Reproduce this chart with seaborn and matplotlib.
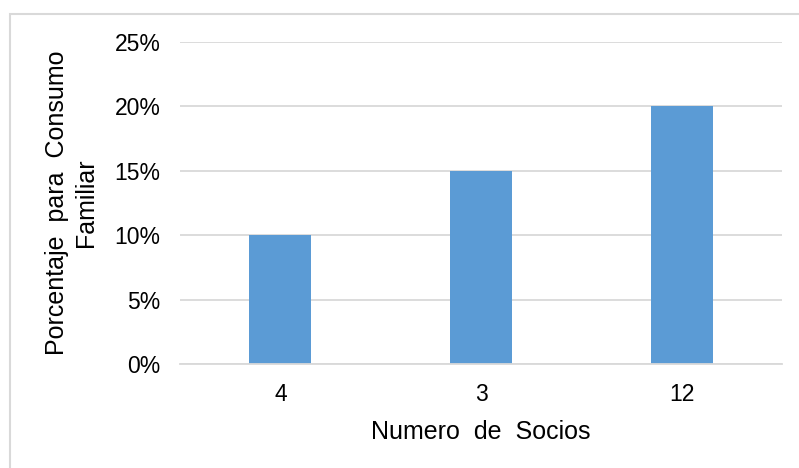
import matplotlib
matplotlib.use('Agg')
import matplotlib.pyplot as plt
import seaborn as sns
import pandas as pd
from matplotlib.ticker import PercentFormatter
from matplotlib.patches import Rectangle

# ====== DATA
socios = ['4', '3', '12']
porcentaje = [0.10, 0.15, 0.20]
y_ticks = [0.0, 0.05, 0.10, 0.15, 0.20, 0.25]

df = pd.DataFrame({'socios': socios, 'porcentaje': porcentaje})

sns.set_theme(style='white')
plt.rcParams['font.family'] = ['Liberation Sans', 'DejaVu Sans']

fig = plt.figure(figsize=(7.99, 4.68), dpi=100)
ax = fig.add_axes([180 / 799, 1 - 364 / 468, (782 - 180) / 799, (364 - 42) / 468])

sns.barplot(data=df, x='socios', y='porcentaje', order=socios, color='#5B9BD5',
            saturation=1, width=0.31, linewidth=0, ax=ax)

ax.set_ylim(0, 0.25)
ax.set_yticks(y_ticks)
ax.yaxis.set_major_formatter(PercentFormatter(1.0, decimals=0))
ax.set_axisbelow(True)
ax.yaxis.grid(True, color='#D9D9D9', linewidth=1.3)
for s in ['top', 'right', 'left']:
    ax.spines[s].set_visible(False)
ax.spines['bottom'].set_color('#D9D9D9')
ax.spines['bottom'].set_linewidth(1.3)
ax.tick_params(axis='both', length=0, labelsize=16.5, colors='#000000')
ax.tick_params(axis='y', pad=14)
ax.tick_params(axis='x', pad=14)

ax.set_xlabel('Numero  de  Socios', fontsize=18, color='#000000', labelpad=10)
ax.set_ylabel('Porcentaje  para  Consumo\nFamiliar', fontsize=18, color='#000000',
              labelpad=12, linespacing=1.25)

# outer chart border
fig.patches.append(Rectangle((10 / 799, -0.1), 1.2, 1 - 14 / 468 + 0.1,
                             transform=fig.transFigure, fill=False,
                             edgecolor='#D9D9D9', linewidth=1.5))

fig.savefig('out.png', dpi=100)
plt.close()
